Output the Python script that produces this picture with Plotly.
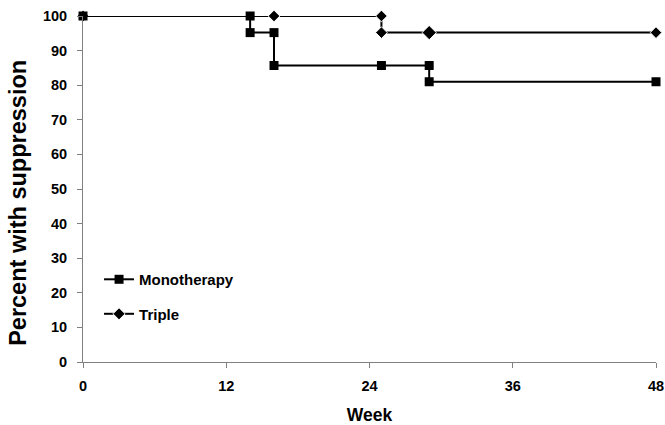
import plotly.graph_objects as go

mono_weeks = [0, 14, 14, 16, 16, 25, 29, 29, 48]
mono_pct = [100, 100, 95.2, 95.2, 85.7, 85.7, 85.7, 81.0, 81.0]
triple_weeks = [0, 16, 25, 25, 29, 48]
triple_pct = [100, 100, 100, 95.2, 95.2, 95.2]
x_ticks = [0, 12, 24, 36, 48]
y_ticks = list(range(0, 101, 10))

font = "Liberation Sans, Arial, sans-serif"

triple_sizes = [9, 9, 9, 9, 11, 9]

fig = go.Figure()
fig.add_trace(go.Scatter(
    x=triple_weeks, y=triple_pct, name="<b>Triple</b>", mode="lines+markers",
    line=dict(color="black", width=2),
    marker=dict(symbol="diamond", size=triple_sizes, color="black", opacity=1),
    cliponaxis=False, legendgroup="b", legendrank=2,
))
fig.add_trace(go.Scatter(
    x=mono_weeks, y=mono_pct, name="<b>Monotherapy</b>", mode="lines+markers",
    line=dict(color="black", width=2),
    marker=dict(symbol="square", size=9, color="black", opacity=1),
    cliponaxis=False, legendgroup="a", legendrank=1,
))

fig.add_annotation(
    text="<b>Percent with suppression</b>", textangle=-90,
    xref="paper", yref="paper", x=0, y=0.46, xshift=-65,
    xanchor="center", yanchor="middle", showarrow=False,
    font=dict(size=23.5, family=font, color="black"),
)

fig.update_layout(
    width=665, height=425,
    margin=dict(l=83, r=9, t=16, b=63),
    plot_bgcolor="white", paper_bgcolor="white",
    font=dict(family=font, color="black", size=14.5),
    showlegend=True,
    legend=dict(x=0.028, y=0.286, xanchor="left", yanchor="top",
                bgcolor="rgba(0,0,0,0)", font=dict(size=15, family=font),
                tracegroupgap=12),
    xaxis=dict(
        range=[0, 48], tickvals=x_ticks, ticktext=[f"<b>{t}</b>" for t in x_ticks],
        showgrid=False, zeroline=False, showline=True, linecolor="#808080", linewidth=1,
        ticks="outside", ticklen=5, tickcolor="#808080", ticklabelstandoff=6,
        title=dict(text="<b>Week</b>", font=dict(size=17.5, family=font), standoff=21),
        tickfont=dict(size=14.5, family=font), automargin=False,
    ),
    yaxis=dict(
        range=[0, 100], tickvals=y_ticks, ticktext=[f"<b>{t}</b>" for t in y_ticks],
        showgrid=False, zeroline=False, showline=True, linecolor="#808080", linewidth=1,
        ticks="outside", ticklen=5, tickcolor="#808080", ticklabelstandoff=7,
        tickfont=dict(size=14.5, family=font), automargin=False,
    ),
)

fig.write_html("out.html", config={"displayModeBar": False},
               post_script="document.body.style.margin='0';")
